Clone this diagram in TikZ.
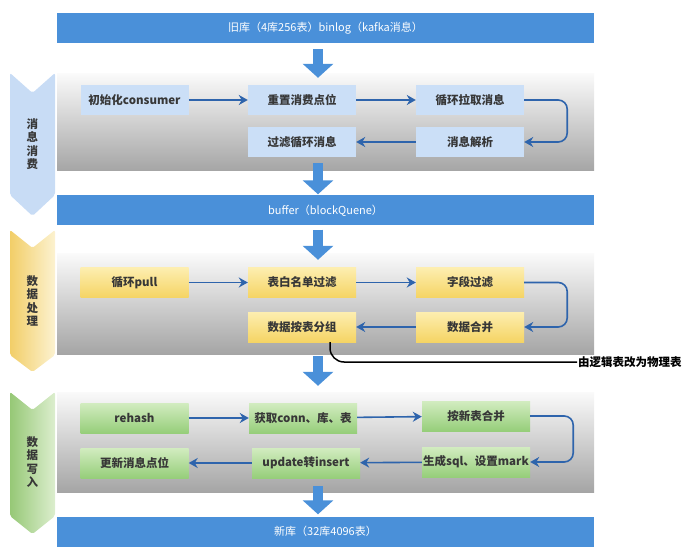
\documentclass[tikz,border=0pt]{standalone}
\usepackage{fontspec}
\setmainfont{Noto Sans CJK SC}
\usetikzlibrary{arrows.meta, positioning, calc}
\definecolor{barblue}{RGB}{74,144,217}
\definecolor{flowblue}{RGB}{46,100,172}
\definecolor{boxblue}{RGB}{203,223,247}
\definecolor{tagblue}{RGB}{200,220,245}
\definecolor{yellowtop}{RGB}{253,238,176}
\definecolor{yellowbot}{RGB}{245,212,100}
\definecolor{greentop}{RGB}{210,236,192}
\definecolor{greenbot}{RGB}{150,206,122}
\definecolor{tagyellowL}{RGB}{242,206,104}
\definecolor{tagyellowR}{RGB}{252,242,208}
\definecolor{taggreenL}{RGB}{150,200,118}
\definecolor{taggreenR}{RGB}{220,238,206}
\definecolor{paneltop}{RGB}{250,250,250}
\definecolor{panelbot}{RGB}{165,165,165}
\definecolor{txtgray}{RGB}{55,55,55}
\tikzstyle{bar} = [rectangle, minimum width=537pt, minimum height=30pt, inner sep=0pt, fill=barblue, text=white, font=\fontsize{11}{13}\selectfont]
\tikzstyle{panel} = [rectangle, minimum width=537pt, minimum height=100pt, inner sep=0pt, top color=paneltop, bottom color=panelbot]
\tikzstyle{stepbox} = [rectangle, minimum width=108pt, minimum height=30pt, inner sep=1pt, text=txtgray, font=\fontsize{11.5}{13}\selectfont\bfseries]
\tikzstyle{bluebox} = [stepbox, fill=boxblue]
\tikzstyle{yellowbox} = [stepbox, top color=yellowtop, bottom color=yellowbot]
\tikzstyle{greenbox} = [stepbox, top color=greentop, bottom color=greenbot]
\tikzstyle{tag} = [align=center, text=txtgray, font=\fontsize{11.5}{13.5}\selectfont\bfseries]
\tikzstyle{flow} = [line width=1.6pt, flowblue, -{Stealth[length=9pt,width=10pt]}]
\tikzstyle{loopflow} = [flow, rounded corners=9pt]
\tikzstyle{bigarrow} = [line width=10pt, barblue, -{Triangle[length=14pt,width=30pt]}]

\begin{document}
\begin{tikzpicture}[x=1pt, y=-1pt]

\useasboundingbox (0,0) rectangle (691,556);

% Stage tags
\fill[tagblue, rounded corners=2pt] (10,73) -- (32.5,93) -- (55,73) -- (55,195) -- (32.5,216) -- (10,195) -- cycle;
\shade[left color=tagyellowL, right color=tagyellowR, rounded corners=2pt] (10,230) -- (32.5,248) -- (55,230) -- (55,355) -- (32.5,372) -- (10,355) -- cycle;
\shade[left color=taggreenL, right color=taggreenR, rounded corners=2pt] (10,392) -- (32.5,410) -- (55,392) -- (55,516) -- (32.5,534) -- (10,516) -- cycle;
\node[tag] (tag_consume) at (32.5,144) {消\\息\\消\\费};
\node[tag] (tag_process) at (32.5,301) {数\\据\\处\\理};
\node[tag] (tag_write) at (32.5,462) {数\\据\\写\\入};

% Bars
\node[bar] (old_db) at (325.5,28) {旧库（4库256表）binlog（kafka消息）};
\node[bar] (buffer) at (325.5,210.5) {buffer（blockQuene）};
\node[bar] (new_db) at (325.5,531.5) {新库（32库4096表）};

% Panels
\node[panel, minimum height=97pt] (panel_consume) at (325.5,122.5) {};
\node[panel] (panel_process) at (325.5,304) {};
\node[panel] (panel_write) at (325.5,442) {};

% Message consumption
\node[bluebox] (init) at (134.5,100) {初始化consumer};
\node[bluebox] (reset) at (302,100) {重置消费点位};
\node[bluebox] (pull) at (470,100) {循环拉取消息};
\node[bluebox] (filter_loop) at (302,142) {过滤循环消息};
\node[bluebox] (parse) at (470,142) {消息解析};

% Data processing
\node[yellowbox] (loop_pull) at (134.5,282.5) {循环pull};
\node[yellowbox] (white_list) at (302,282.5) {表白名单过滤};
\node[yellowbox] (field_filter) at (470,282.5) {字段过滤};
\node[yellowbox] (group) at (302,327) {数据按表分组};
\node[yellowbox] (merge) at (470,327) {数据合并};

% Data writing
\node[greenbox] (rehash) at (134.5,418) {rehash};
\node[greenbox] (get_conn) at (303,418) {获取conn、库、表};
\node[greenbox] (new_merge) at (476,416) {按新表合并};
\node[greenbox] (gen_sql) at (476,462) {生成sql、设置mark};
\node[greenbox] (to_insert) at (306,463) {update转insert};
\node[greenbox] (update_pos) at (134.5,463) {更新消息点位};

% Note
\node[anchor=west, inner sep=1pt, text=black, font=\fontsize{11.5}{13}\selectfont\bfseries] (note) at (577,362) {由逻辑表改为物理表};

% Main flow
\coordinate (mid) at (318,0);
\draw[bigarrow, shorten <=6pt, shorten >=-4pt] (old_db.south -| mid) -- (panel_consume.north -| mid);
\draw[bigarrow, shorten <=-8pt, shorten >=1pt] (panel_consume.south -| mid) -- (buffer.north -| mid);
\draw[bigarrow, shorten <=4pt, shorten >=-6pt] (buffer.south -| mid) -- (panel_process.north -| mid);
\draw[bigarrow, shorten <=2pt, shorten >=6pt] (panel_process.south -| mid) -- (panel_write.north -| mid);
\draw[bigarrow, shorten <=-6pt, shorten >=2pt] (panel_write.south -| mid) -- (new_db.north -| mid);

% Step flow
\draw[flow] (init) -- (reset);
\draw[flow] (reset) -- (pull);
\draw[loopflow] (pull.east) -- ++(43,0) |- (parse.east);
\draw[flow] (parse) -- (filter_loop);

\draw[flow] (loop_pull) -- (white_list);
\draw[flow] (white_list) -- (field_filter);
\draw[loopflow] (field_filter.east) -- ++(43,0) |- (merge.east);
\draw[flow] (merge) -- (group);

\draw[flow] (rehash) -- (get_conn);
\draw[flow] (get_conn) -- (new_merge);
\draw[loopflow] (new_merge.east) -- ++(43,0) |- (gen_sql.east);
\draw[flow] (gen_sql) -- (to_insert);
\draw[flow] (to_insert) -- (update_pos);

\draw[line width=1.5pt, black, rounded corners=14pt] ([xshift=28pt]group.south) |- (note.west);

\end{tikzpicture}
\end{document}
